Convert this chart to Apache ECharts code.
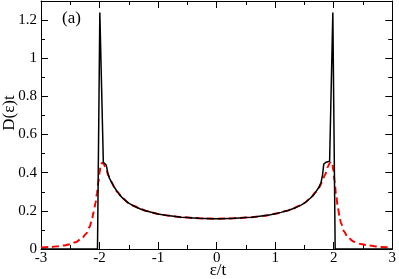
<!DOCTYPE html>
<html><head><meta charset="utf-8">
<script src="https://cdn.jsdelivr.net/npm/echarts@6/dist/echarts.min.js"></script>
<style>html,body{margin:0;padding:0;background:#fff}#c{width:399px;height:279px}</style>
</head><body><div id="c"></div>
<script>
var xTicks = [-3, -2, -1, 0, 1, 2, 3];
var yTicks = [0, 0.2, 0.4, 0.6, 0.8, 1, 1.2];
var panelLabel = "(a)";
var xName = "ε/t";
var yName = "D(ε)t";

// black solid: D(eps) from exact calculation
var blackX = [-3, -2.035, -1.995, -1.935, -1.91, -1.885, -1.86, -1.83, -1.785, -1.75, -1.7, -1.66, -1.6, -1.55, -1.5, -1.436, -1.38, -1.3, -1.2, -1.1, -1.0, -0.9, -0.8, -0.7, -0.6, -0.5, -0.4, -0.3, -0.2, -0.1, 0,
  0.1, 0.2, 0.3, 0.4, 0.5, 0.6, 0.7, 0.8, 0.9, 1.0, 1.1, 1.2, 1.3, 1.38, 1.44, 1.5, 1.55, 1.6, 1.66, 1.7, 1.75, 1.785, 1.81, 1.83, 1.87, 1.93, 1.985, 2.025, 3];
var blackY = [0, 0, 1.24, 0.455, 0.445, 0.44, 0.40, 0.37, 0.345, 0.325, 0.302, 0.285, 0.265, 0.252, 0.24, 0.229, 0.22, 0.21, 0.199, 0.191, 0.184, 0.178, 0.174, 0.170, 0.167, 0.165, 0.163, 0.161, 0.160, 0.159, 0.159,
  0.159, 0.160, 0.161, 0.163, 0.165, 0.167, 0.170, 0.174, 0.178, 0.185, 0.192, 0.200, 0.211, 0.221, 0.230, 0.241, 0.253, 0.266, 0.285, 0.302, 0.325, 0.35, 0.39, 0.445, 0.455, 0.46, 1.24, 0, 0];

// red dashed: broadened D(eps)
var redX = [-3, -2.85, -2.7, -2.6, -2.5, -2.4, -2.3, -2.23, -2.17, -2.13, -2.1, -2.07, -2.045, -2.02, -2.0, -1.98, -1.955, -1.93, -1.905, -1.88, -1.85, -1.8, -1.75, -1.7, -1.6, -1.5, -1.4, -1.3, -1.2, -1.0, -0.8, -0.6, -0.4, -0.2, 0,
  0.2, 0.4, 0.6, 0.8, 1.0, 1.2, 1.3, 1.4, 1.5, 1.6, 1.7, 1.75, 1.8, 1.85, 1.9, 1.93, 1.955, 1.975, 1.995, 2.015, 2.04, 2.07, 2.1, 2.125, 2.18, 2.24, 2.35, 2.46, 2.6, 2.8, 3];
var redY = [0.008, 0.010, 0.015, 0.019, 0.025, 0.037, 0.057, 0.080, 0.115, 0.155, 0.195, 0.24, 0.29, 0.35, 0.40, 0.44, 0.452, 0.448, 0.432, 0.412, 0.385, 0.353, 0.325, 0.300, 0.265, 0.240, 0.224, 0.210, 0.199, 0.184, 0.174, 0.167, 0.163, 0.160, 0.159,
  0.160, 0.163, 0.167, 0.174, 0.185, 0.200, 0.211, 0.225, 0.241, 0.266, 0.300, 0.322, 0.350, 0.388, 0.43, 0.450, 0.457, 0.45, 0.41, 0.355, 0.285, 0.22, 0.17, 0.135, 0.09, 0.06, 0.038, 0.026, 0.018, 0.011, 0.008];

function pairs(xs, ys){ var out=[]; for(var i=0;i<xs.length;i++) out.push([xs[i], ys[i]]); return out; }

var font = "'Liberation Serif', 'DejaVu Serif', serif";
var chart = echarts.init(document.getElementById('c'), null, {renderer:'canvas'});
var tickCommon = {inside:true, length:7, lineStyle:{color:'#000', width:1}};
var minorCommon = {show:true, splitNumber:2, length:4, lineStyle:{color:'#000', width:1}};
chart.setOption({
  animation:false,
  backgroundColor:'#fff',
  grid:{left:41, right:4, top:1, bottom:30, containLabel:false},
  xAxis:[{
    type:'value', min:-3, max:3, interval:1,
    axisLine:{show:true, onZero:false, lineStyle:{color:'#000', width:1}},
    axisTick:tickCommon, minorTick:minorCommon,
    splitLine:{show:false},
    axisLabel:{color:'#000', fontFamily:font, fontSize:15, margin:2,
      formatter:function(v){ return xTicks.indexOf(v)>=0 ? String(v) : ''; }}
  },{
    type:'value', position:'top', min:-3, max:3, interval:1,
    axisLine:{show:true, onZero:false, lineStyle:{color:'#000', width:1}},
    axisTick:tickCommon, minorTick:minorCommon,
    splitLine:{show:false}, axisLabel:{show:false}
  }],
  yAxis:[{
    type:'value', min:0, max:1.3, interval:0.2,
    axisLine:{show:true, onZero:false, lineStyle:{color:'#000', width:1}},
    axisTick:tickCommon, minorTick:minorCommon,
    splitLine:{show:false},
    axisLabel:{color:'#000', fontFamily:font, fontSize:15, margin:4,
      formatter:function(v){ var r=Math.round(v*10)/10; return yTicks.indexOf(r)>=0 ? String(r) : ''; }}
  },{
    type:'value', position:'right', min:0, max:1.3, interval:0.2,
    axisLine:{show:true, onZero:false, lineStyle:{color:'#000', width:1}},
    axisTick:tickCommon, minorTick:minorCommon,
    splitLine:{show:false}, axisLabel:{show:false}
  }],
  graphic:[
    {type:'text', left:62, top:10, style:{text:panelLabel, font:'17px ' + font, fill:'#000'}},
    {type:'text', x:218, y:271, style:{text:xName, font:'17px ' + font, fill:'#000', align:'center', verticalAlign:'middle'}},
    {type:'text', x:10, y:113, rotation:Math.PI/2, style:{text:yName, font:'17px ' + font, fill:'#000', align:'center', verticalAlign:'middle'}}
  ],
  series:[
    {type:'line', data:pairs(redX, redY), showSymbol:false, smooth:0.3, smoothMonotone:'x',
      lineStyle:{color:'#ff0000', width:2, type:[7,4]}, z:2},
    {type:'line', data:pairs(blackX, blackY), showSymbol:false, smooth:false,
      lineStyle:{color:'#000', width:1.5}, z:3}
  ]
});
</script></body></html>
